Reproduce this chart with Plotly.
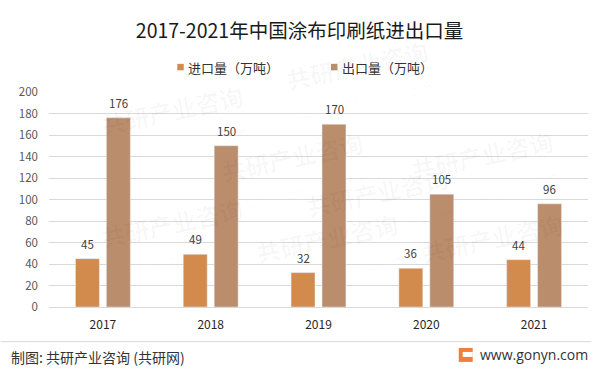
import plotly.graph_objects as go

years = ["2017", "2018", "2019", "2020", "2021"]
import_vals = [45, 49, 32, 36, 44]
export_vals = [176, 150, 170, 105, 96]
series_names = ["进口量（万吨）", "出口量（万吨）"]
y_ticks = [0, 20, 40, 60, 80, 100, 120, 140, 160, 180, 200]

C_IMP = "#D38B4D"
C_EXP = "#BA8D6D"
CJK = "Noto Sans CJK SC, Noto Sans, sans-serif"

W, H = 599, 373
ML, MR, MT, MB = 48.5, 10.5, 91.7, 66

def px2x(p): return (p - ML) / (W - ML - MR)
def py2y(p): return (H - MB - p) / (H - MT - MB)

fig = go.Figure()
fig.add_trace(go.Bar(x=years, y=import_vals, marker_color=C_IMP, showlegend=False, name=series_names[0]))
fig.add_trace(go.Bar(x=years, y=export_vals, marker_color=C_EXP, showlegend=False, name=series_names[1]))

# data labels (category index positions on the x axis)
for vals, xs in ((import_vals, -15.5), (export_vals, 15.5)):
    for i, v in enumerate(vals):
        fig.add_annotation(x=i, y=v, xref="x", yref="y", text=str(v), showarrow=False, xshift=xs,
                           yanchor="bottom", yshift=5,
                           font=dict(family=CJK, size=11.5, color="#404040"))

# legend (square key + label)
leg_x = [177, 331]
for nm, c, lx in zip(series_names, [C_IMP, C_EXP], leg_x):
    fig.add_shape(type="rect", xref="paper", yref="paper",
                  x0=px2x(lx), x1=px2x(lx + 6.5), y0=py2y(70), y1=py2y(63.5),
                  fillcolor=c, line=dict(width=0))
    fig.add_annotation(xref="paper", yref="paper", x=px2x(lx + 9), xanchor="left",
                       y=py2y(66.7), yanchor="middle", text=nm, showarrow=False,
                       font=dict(family=CJK, size=13, color="#333333"))

# watermarks
wm_pos = [(95, 75), (360, 30), (565, 120), (215, 170), (460, 205), (95, 285), (330, 300), (575, 300)]
for (px, py) in wm_pos:
    fig.add_annotation(xref="paper", yref="paper", x=px2x(px), y=py2y(py),
                       text="<b>共研产业咨询</b><br><span style='font-size:13px'>w w w . g o n y n . c o m</span>",
                       showarrow=False, textangle=-12,
                       font=dict(family=CJK, size=24, color="rgba(0,0,0,0.03)"))

# footer separator
fig.add_shape(type="line", xref="paper", yref="paper",
              x0=px2x(0), x1=px2x(592), y0=py2y(341.7), y1=py2y(341.7),
              line=dict(color="#D9D9D9", width=1))
fig.add_annotation(xref="paper", yref="paper", x=px2x(8), xanchor="left",
                   y=py2y(357), yanchor="middle",
                   text="制图: 共研产业咨询 (共研网)", showarrow=False,
                   font=dict(family=CJK, size=14, color="#333333"))
fig.add_annotation(xref="paper", yref="paper", x=px2x(591), xanchor="right",
                   y=py2y(355), yanchor="middle",
                   text="www.gonyn.com", showarrow=False,
                   font=dict(family="Open Sans, sans-serif", size=14, color="#333333"))
# logo
lx0, lx1 = 459, 473
ly0, ly1 = 348, 362
fig.add_shape(type="rect", xref="paper", yref="paper", x0=px2x(lx0), x1=px2x(lx1), y0=py2y(ly1), y1=py2y(ly0),
              fillcolor="#F07F3C", line=dict(width=0))
fig.add_shape(type="rect", xref="paper", yref="paper", x0=px2x(lx0 + 4), x1=px2x(lx1), y0=py2y(ly0 + 9), y1=py2y(ly0 + 4),
              fillcolor="white", line=dict(width=0))

fig.update_layout(
    width=W, height=H,
    margin=dict(l=ML, r=MR, t=MT, b=MB, autoexpand=False),
    paper_bgcolor="white", plot_bgcolor="white",
    barmode="group", bargap=0.426, bargroupgap=0.226,
    showlegend=False,
    title=dict(text="2017-2021年中国涂布印刷纸进出口量", x=0.5, xref="container", xanchor="center",
               y=1 - 31 / H, yanchor="middle", yref="container",
               font=dict(family=CJK, size=19.5, color="#1a1a1a")),
    xaxis=dict(type="category", categoryorder="array", categoryarray=years, range=[-0.5, len(years) - 0.5],
               showgrid=False, showline=True, linecolor="#D9D9D9", linewidth=1,
               ticks="", tickfont=dict(family=CJK, size=12, color="#262626"), ticklabelstandoff=7),
    yaxis=dict(range=[0, 200], tickvals=y_ticks, showgrid=True, gridcolor="#D9D9D9", gridwidth=1,
               zeroline=False, showline=False, ticks="",
               tickfont=dict(family=CJK, size=11.5, color="#595959"), ticklabelstandoff=10),
)
fig.write_html("out.html", config={"displayModeBar": False},
               post_script="document.body.style.margin='0px';")
